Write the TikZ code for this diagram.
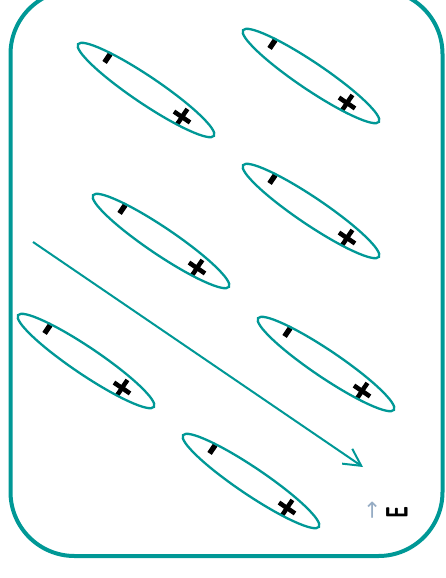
\documentclass[tikz,border=0pt]{standalone}
\usepackage{fontspec}
\usepackage{amsmath}
\usepackage{tikz}
\usetikzlibrary{shapes.geometric,arrows.meta,calc}
\newfontfamily\chargefont{DejaVu Sans Bold}[FakeBold=4]
\newfontfamily\arrowfont{DejaVu Sans}
\definecolor{frameteal}{RGB}{0,152,150}
\definecolor{vecgray}{RGB}{150,172,196}

\begin{document}
\begin{tikzpicture}[x=1pt, y=-1pt,
    dipole/.style={draw=frameteal, line width=2.3pt, ellipse, minimum width=164pt, minimum height=27pt, inner sep=0pt, rotate=-34},
    charge/.style={font=\chargefont\fontsize{29}{29}\selectfont, inner sep=0pt, rotate=56}]
    \useasboundingbox (0,0) rectangle (445,578);

    % Frame
    \draw[frameteal, line width=4pt, rounded corners=64pt] (10.5,-10) rectangle (442.5,556);
    \fill[white] (424,541) rectangle (446,579);

    % Dipoles
    \foreach \x/\y [count=\i] in {146/90, 311/76, 311/211, 161/241, 86/361, 326/364, 251/481} {
        \node[charge] (m\i) at ($(\x,\y)+(-36,-30)$) {-};
        \node[charge] (p\i) at ($(\x,\y)+(36,27)$) {+};
        \node[dipole] (d\i) at (\x,\y) {};
    }

    % Field
    \coordinate (fs) at (33,242);
    \coordinate (fe) at (363,467);
    \draw[frameteal, line width=2pt, -{Straight Barb[length=17pt, width=18pt]}] (fs) -- (fe);
    \node[rotate=90, text=vecgray, inner sep=0pt, font=\arrowfont\fontsize{22}{22}\selectfont] (evec) at (374,510) {→};
    \node[rotate=90, inner sep=0pt, font=\sffamily\bfseries\fontsize{31}{31}\selectfont] (efield) at (397,513) {\scalebox{0.6}[1]{E}};
\end{tikzpicture}
\end{document}
